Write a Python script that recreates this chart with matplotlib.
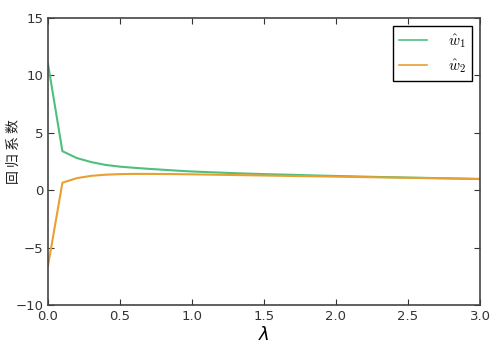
import matplotlib
matplotlib.use("Agg")
import matplotlib.pyplot as plt
import numpy as np

lam = [round(0.1 * i, 1) for i in range(31)]
w1 = [11.0, 3.4, 2.8, 2.45, 2.2, 2.05, 1.95, 1.86, 1.78, 1.7, 1.63, 1.58, 1.53, 1.48, 1.44, 1.4,
      1.37, 1.34, 1.3, 1.27, 1.24, 1.21, 1.18, 1.15, 1.13, 1.1, 1.08, 1.05, 1.03, 1.0, 0.98]
w2 = [-6.6, 0.65, 1.05, 1.25, 1.35, 1.4, 1.42, 1.42, 1.41, 1.4, 1.38, 1.36, 1.34, 1.32, 1.3, 1.28,
      1.26, 1.24, 1.22, 1.2, 1.18, 1.16, 1.14, 1.12, 1.1, 1.08, 1.06, 1.04, 1.02, 1.0, 0.97]
labels = [r'$\hat{w}_1$', r'$\hat{w}_2$']
xticks = [0.0, 0.5, 1.0, 1.5, 2.0, 2.5, 3.0]
yticks = [-10, -5, 0, 5, 10, 15]

fig = plt.figure(figsize=(4.96, 3.5), dpi=100)
ax = fig.add_axes([48/496, 45/350, 432/496, 287/350])
ax.plot(lam, w1, color='#4fbf7c', lw=1.5, label=labels[0])
ax.plot(lam, w2, color='#e8a030', lw=1.5, label=labels[1])
ax.set_xlim(0, 3)
ax.set_ylim(-10, 15)
ax.set_xticks(xticks)
ax.set_yticks(yticks)
ax.tick_params(direction='in', top=True, right=True, labelsize=9.5, colors='#333333', length=4)
for s in ax.spines.values():
    s.set_color('#444444')
    s.set_linewidth(1.2)
ax.set_xlabel(r'$\lambda$', fontsize=13, labelpad=2)
fig.text(14/496, 1 - 152/350, '回 归 系 数', rotation=90, fontsize=10, ha='center', va='center',
         family=['Noto Sans CJK SC', 'DejaVu Sans'], color='#222222')
leg = ax.legend(loc='upper right', prop={'math_fontfamily': 'cm', 'size': 11}, fancybox=False,
                framealpha=1, edgecolor='black', borderpad=0.4, handlelength=1.8, handletextpad=1.4,
                labelspacing=0.45, borderaxespad=0.5)
leg.get_frame().set_linewidth(1.0)
for l in leg.get_lines():
    l.set_linewidth(1.2)
fig.savefig('out.png', dpi=100, facecolor='white')
